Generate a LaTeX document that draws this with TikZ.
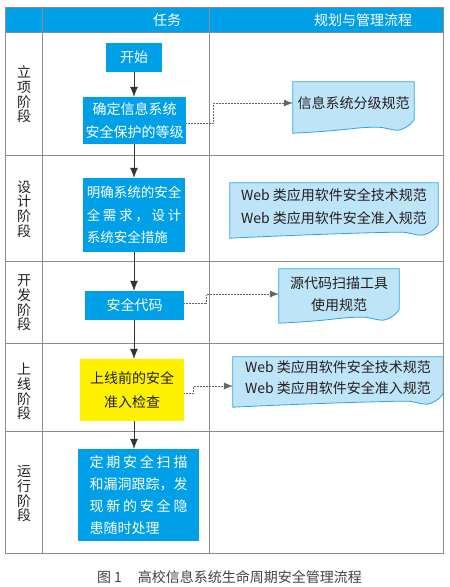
\documentclass[tikz,border=0pt]{standalone}
\usepackage{fontspec}
\setmainfont{Noto Sans CJK SC}
\usetikzlibrary{arrows.meta,calc,backgrounds}

\definecolor{azul}{HTML}{00A0E9}
\definecolor{azulclaro}{HTML}{BEE4F8}
\definecolor{borde}{HTML}{2AA7E1}
\definecolor{linea}{HTML}{8C8C8C}
\definecolor{amarillo}{HTML}{FFF100}
\definecolor{texto}{HTML}{231F20}

\tikzset{
	tarea/.style={fill=azul, text=white, inner sep=0pt, align=center, font=\fontsize{14}{23}\selectfont},
	norma/.style={inner sep=0pt, align=center, text=texto, font=\fontsize{14}{22}\selectfont},
	papelborde/.style={draw=borde, fill=azulclaro, line width=0.8pt},
	etapa/.style={align=center, text=texto, font=\fontsize{14}{14.7}\selectfont},
	flecha/.style={draw=black!80, line width=0.7pt, -{Latex[length=10pt,width=8pt]}},
	punteada/.style={draw=black!60, densely dotted, line width=0.5pt, -{Latex[length=9pt,width=7pt]}}
}

% hoja con borde inferior ondulado
\newcommand{\papel}[2]{%
	\coordinate (#1-se) at ($(#1.south east)+(0,#2)$);
	\coordinate (#1-sw) at ($(#1.south west)+(0,#2)$);
	\draw[papelborde] (#1.north west) -- (#1.north east) -- ([yshift=14pt]#1-se)
		.. controls +(-3,6) and +(5,0) .. ([xshift=-17pt,yshift=3pt]#1-se)
		.. controls +(-6,0) and +(8,0) .. ([xshift=-37pt,yshift=6pt]#1-se)
		.. controls +(-25,0) and +(60,-3) .. (#1-sw) -- cycle;}

\begin{document}
\begin{tikzpicture}[x=1pt, y=-1pt]
\useasboundingbox (0,0) rectangle (450,587);

% Tabla
\fill[azul] (5,7) rectangle (443,32);
\draw[linea, line width=0.8pt] (5,7) rectangle (443,553);
	\foreach \y in {32, 155, 261, 343, 431}
		\draw[linea, line width=0.8pt] (5,\y) -- (443,\y);
	\foreach \x in {42, 209}
		\draw[linea, line width=0.8pt] (\x,7) -- (\x,553);

\node[text=white, font=\fontsize{14}{16}\selectfont] (tareas) at (167,20) {任务};
\node[text=white, font=\fontsize{14}{16}\selectfont] (normas) at (363,20) {规划与管理流程};

	\foreach \t/\y [count=\i] in {{立\\项\\阶\\段}/94.5, {设\\计\\阶\\段}/209, {开\\发\\阶\\段}/303, {上\\线\\阶\\段}/391.5, {运\\行\\阶\\段}/494}
		\node[etapa] (etapa\i) at (24,\y) {\t};

% Tareas
\coordinate (eje) at (134,0);
\node[tarea, minimum width=56, minimum height=29] (inicio) at (134,57.5) {开始};
\node[tarea, minimum width=103, minimum height=47] (nivel) at (134.5,120.5) {确定信息系统\\安全保护的等级};
\node[tarea, minimum width=102, minimum height=74, font=\fontsize{13.5}{22.5}\selectfont] (disenio) at (134,215)
	{明确系统的安全\\\makebox[7em][s]{全\hfil 需\hfil 求\hfil ，\hfil 设\hfil 计}\\\makebox[7em][l]{系统安全措施}};
\node[tarea, minimum width=99, minimum height=29] (codigo) at (134.5,305.5) {安全代码};
\node[tarea, fill=amarillo, text=texto, minimum width=104, minimum height=62, font=\fontsize{14}{24}\selectfont] (revision) at (132,390) {上线前的安全\\准入检查};
\node[tarea, minimum width=121, minimum height=92, font=\fontsize{14}{22}\selectfont] (operacion) at (138.5,495)
	{\makebox[7em][s]{定\hfil 期\hfil 安\hfil 全\hfil 扫\hfil 描}\\和漏洞跟踪，发\\\makebox[7em][s]{现\hfil 新\hfil 的\hfil 安\hfil 全\hfil 隐}\\\makebox[7em][l]{患随时处理}};

	\foreach \a/\b in {inicio/nivel, nivel/disenio, disenio/codigo, codigo/revision, revision/operacion}
		\draw[flecha] (\a.south -| eje) -- (\b.north -| eje);

% Normas
\node[norma, minimum width=121, minimum height=42] (hoja1) at (353.5,103) {信息系统分级规范};
\node[norma, minimum width=208, minimum height=47, font=\fontsize{14}{23}\selectfont] (hoja2) at (334,206.5) {Web 类应用软件安全技术规范\\Web 类应用软件安全准入规范};
\node[norma, minimum width=120, minimum height=50] (hoja3) at (339,294) {源代码扫描工具\\使用规范};
\node[norma, minimum width=210, minimum height=41, font=\fontsize{14}{21}\selectfont] (hoja4) at (338,377.5) {Web 类应用软件安全技术规范\\Web 类应用软件安全准入规范};

\begin{scope}[on background layer]
	\papel{hoja1}{9}
	\papel{hoja2}{8}
	\papel{hoja3}{4}
	\papel{hoja4}{9}
\end{scope}

\draw[punteada] ([yshift=-2.5pt]nivel.east) -- ++(27,0) |- (hoja1.west);
\draw[punteada] ([yshift=2.5pt]codigo.east) -- ++(22.5,0) |- (hoja3.west);
\draw[punteada] ([yshift=-3pt]revision.east) -- ++(9,0) |- ([yshift=-8.5pt]hoja4.west);

% Titulo
\node[text=texto!85, font=\fontsize{14}{16}\selectfont] (titulo) at (229.5,577) {图 1\hspace{16pt}高校信息系统生命周期安全管理流程};
\end{tikzpicture}
\end{document}
